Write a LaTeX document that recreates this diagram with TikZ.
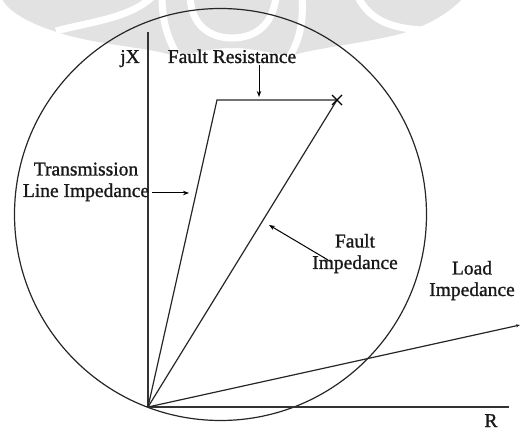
\documentclass[tikz,border=0pt]{standalone}
\usepackage{fontspec}
\setmainfont{Liberation Serif}
\newfontfamily\lblfont{Liberation Serif}[FakeBold=1.2]
\usetikzlibrary{arrows.meta,calc}
\definecolor{wm}{RGB}{226,226,226}
\begin{document}
\begin{tikzpicture}[x=1pt,y=1pt,
  line/.style={line width=1.2pt,black!85},
  axis/.style={line width=1.2pt,black!80},
  lbl/.style={font=\lblfont\fontsize{19.5}{21.5}\selectfont,inner sep=0pt,anchor=base,align=center,text=black!90},
  pointer/.style={line width=1pt,-{Stealth[length=6pt,width=4.5pt]}},
  wmband/.style={white,line width=7pt}]
\useasboundingbox (0,0) rectangle (522,431);
% watermark (faint logo)
\begin{scope}[shift={(0,431)},yscale=-1]
\fill[wm] (2,-1) .. controls (10,15) and (40,28) .. (70,36) .. controls (110,46) and (150,48) .. (175,56)
  .. controls (200,52) and (215,48) .. (232,48) .. controls (250,48) and (265,52) .. (290,56)
  .. controls (315,48) and (360,44) .. (400,34) .. controls (430,25) and (450,12) .. (462,-1) -- cycle;
\draw[wmband] (56,31) .. controls (90,22) and (130,18) .. (152,-3);
\draw[wmband] (162,-3) .. controls (162,25) and (170,45) .. (182,62);
\draw[wmband] (190,-3) .. controls (192,30) and (215,38) .. (232,38) .. controls (250,38) and (272,30) .. (276,-3);
\draw[wmband] (302,-3) .. controls (304,25) and (298,45) .. (286,62);
\draw[wmband] (358,-3) .. controls (370,20) and (390,28) .. (422,30);
\end{scope}
% key points
\coordinate (O) at (148,24);
\coordinate (Ytop) at (148,399);
\coordinate (Rend) at (509,24);
\coordinate (A) at (217,331);
\coordinate (F) at (337,331);
\coordinate (L) at (520,106);
% circle
\draw[line] (220.5,216.5) circle[radius=206];
% axes
\draw[axis] (O) -- (Ytop);
\draw[axis] (O) -- (Rend);
% impedance lines
\draw[line] (O) -- (A) -- (F);
\draw[line] (O) -- (F);
\draw[line,-{Stealth[length=4pt,width=3pt]}] (O) -- (L);
% fault mark
\draw[line width=1.3pt] ($(F)+(-5,-5)$) -- ($(F)+(5,5)$);
\draw[line width=1.3pt] ($(F)+(-5,5)$) -- ($(F)+(5,-5)$);
% labels
\node[lbl] (jx) at (130,368) {jX};
\node[lbl] (fr) at (232,368) {Fault Resistance};
\node[lbl] (tl) at (86,234) {Transmission\\Line Impedance};
\node[lbl] (fi) at (355,162) {Fault\\Impedance};
\node[lbl] (li) at (472,135) {Load\\Impedance};
\node[lbl] (r) at (491,4) {R};
% pointers
\coordinate (frs) at (259,366);
\coordinate (fre) at (259,334);
\draw[pointer] (frs) -- (fre);
\coordinate (tls) at (152,238);
\coordinate (tle) at (189,238);
\draw[pointer] (tls) -- (tle);
\coordinate (fis) at (328,171);
\coordinate (fie) at (269,206);
\draw[pointer] (fis) -- (fie);
\end{tikzpicture}
\end{document}
